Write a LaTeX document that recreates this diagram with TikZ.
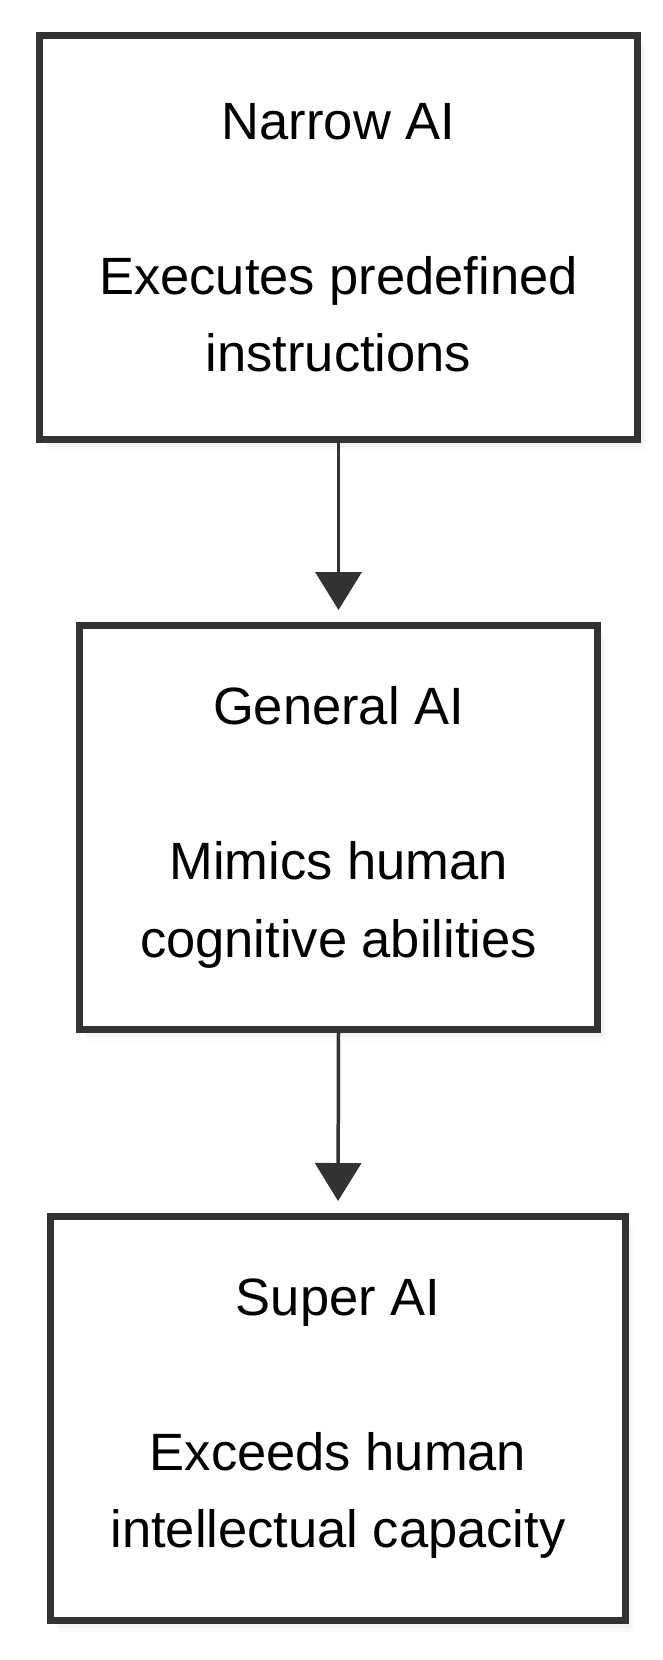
\documentclass[tikz,border=0pt]{standalone}
\usepackage{fontspec}
\setmainfont{Liberation Sans}
\usetikzlibrary{arrows.meta}
\definecolor{edge}{HTML}{333333}
\tikzset{
  levelbox/.style={draw=edge, line width=7pt, fill=white, align=center,
    inner sep=0pt, minimum height=404pt,
    font=\fontsize{52.5}{77.5}\selectfont,
    preaction={fill=black, opacity=0.04, transform canvas={shift={(2pt,-3pt)}}},
    preaction={fill=black, opacity=0.03, transform canvas={shift={(5pt,-7pt)}}},
    preaction={fill=black, opacity=0.02, transform canvas={shift={(8pt,-11pt)}}}},
  flow/.style={draw=edge, line width=3.5pt,
    -{Triangle[length=38pt, width=46pt]}, shorten >=12pt}
}
\begin{document}
\begin{tikzpicture}[x=1pt, y=-1pt]
\useasboundingbox (0,0) rectangle (662,1660);
\node[levelbox, minimum width=598pt] (narrow) at (338.5,237.5)
  {Narrow AI\\[77.5pt]Executes predefined\\instructions};
\node[levelbox, minimum width=518pt] (general) at (338.5,827.5)
  {General AI\\[77.5pt]Mimics human\\cognitive abilities};
\node[levelbox, minimum width=575pt] (super) at (338,1418.5)
  {Super AI\\[77.5pt]Exceeds human\\intellectual capacity};
\draw[flow] (narrow.south) -- (general.north);
\draw[flow] (general.south) -- (super.north);
\end{tikzpicture}
\end{document}
